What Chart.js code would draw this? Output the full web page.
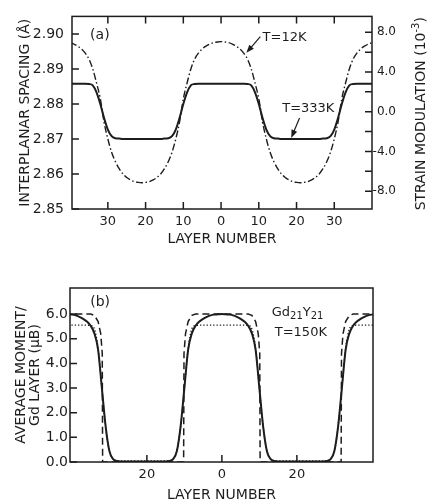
<!DOCTYPE html>
<html>
<head>
<meta charset="utf-8">
<script src="https://cdn.jsdelivr.net/npm/chart.js@4.4.1/dist/chart.umd.min.js"></script>
<style>
  body { margin: 0; background: #fff; }
  #wrap { position: relative; width: 429px; height: 504px; }
  canvas { position: absolute; left: 0; }
  #chartA { top: 0; }
  #chartB { top: 250px; }
</style>
</head>
<body>
<div id="wrap">
  <canvas id="chartA" width="429" height="250"></canvas>
  <canvas id="chartB" width="429" height="254"></canvas>
</div>
<script>
'use strict';
// ---- panel (a): interplanar spacing vs layer number ----
var layersA = [-42, -41, -40, -39, -38, -37, -36, -35, -34, -33, -32, -31, -30, -29, -28, -27, -26, -25, -24, -23, -22, -21,
  -20, -19, -18, -17, -16, -15, -14, -13, -12, -11, -10, -9, -8, -7, -6, -5, -4, -3, -2, -1, 0,
  1, 2, 3, 4, 5, 6, 7, 8, 9, 10, 11, 12, 13, 14, 15, 16, 17, 18, 19, 20, 21,
  22, 23, 24, 25, 26, 27, 28, 29, 30, 31, 32, 33, 34, 35, 36, 37, 38, 39, 40, 41, 42];
var spacing12K = [2.8978, 2.8977, 2.8975, 2.8971, 2.8965, 2.8957, 2.8945, 2.8928, 2.8900, 2.8860, 2.8815, 2.8748, 2.8700, 2.8662, 2.8635, 2.8615, 2.8600, 2.8590, 2.8583, 2.8578, 2.8576, 2.8575,
  2.8576, 2.8578, 2.8583, 2.8590, 2.8600, 2.8615, 2.8635, 2.8662, 2.8700, 2.8748, 2.8815, 2.8860, 2.8900, 2.8928, 2.8945, 2.8957, 2.8965, 2.8971, 2.8975, 2.8977, 2.8978,
  2.8977, 2.8975, 2.8971, 2.8965, 2.8957, 2.8945, 2.8928, 2.8900, 2.8860, 2.8815, 2.8748, 2.8700, 2.8662, 2.8635, 2.8615, 2.8600, 2.8590, 2.8583, 2.8578, 2.8576, 2.8575,
  2.8576, 2.8578, 2.8583, 2.8590, 2.8600, 2.8615, 2.8635, 2.8662, 2.8700, 2.8748, 2.8815, 2.8860, 2.8900, 2.8928, 2.8945, 2.8957, 2.8965, 2.8971, 2.8975, 2.8977, 2.8978];
var spacing333K = [2.8858, 2.8858, 2.8858, 2.8858, 2.8858, 2.8858, 2.8858, 2.8857, 2.8853, 2.8833, 2.8800, 2.8760, 2.8727, 2.8708, 2.8702, 2.8701, 2.8700, 2.8700, 2.8700, 2.8700, 2.8700, 2.8700,
  2.8700, 2.8700, 2.8700, 2.8700, 2.8700, 2.8701, 2.8702, 2.8708, 2.8727, 2.8760, 2.8800, 2.8833, 2.8853, 2.8857, 2.8858, 2.8858, 2.8858, 2.8858, 2.8858, 2.8858, 2.8858,
  2.8858, 2.8858, 2.8858, 2.8858, 2.8858, 2.8858, 2.8857, 2.8853, 2.8833, 2.8800, 2.8760, 2.8727, 2.8708, 2.8702, 2.8701, 2.8700, 2.8700, 2.8700, 2.8700, 2.8700, 2.8700,
  2.8700, 2.8700, 2.8700, 2.8700, 2.8700, 2.8701, 2.8702, 2.8708, 2.8727, 2.8760, 2.8800, 2.8833, 2.8853, 2.8857, 2.8858, 2.8858, 2.8858, 2.8858, 2.8858, 2.8858, 2.8858];
var spacingTicks = [2.85, 2.86, 2.87, 2.88, 2.89, 2.90];
var strainTicks = [-8, -6, -4, -2, 0, 2, 4, 6, 8];
var layerTicksA = [-30, -20, -10, 0, 10, 20, 30];

// ---- panel (b): average moment per Gd layer ----
var layersB = layersA;
var momentSolid = [6.00, 5.99, 5.98, 5.95, 5.89, 5.81, 5.70, 5.53, 5.22, 4.55, 3.00, 1.45, 0.45, 0.12, 0.04, 0.02, 0.02, 0.02, 0.02, 0.02, 0.02, 0.02,
  0.02, 0.02, 0.02, 0.02, 0.02, 0.02, 0.04, 0.12, 0.45, 1.45, 3.00, 4.55, 5.22, 5.53, 5.70, 5.81, 5.89, 5.95, 5.98, 5.99, 6.00,
  5.99, 5.98, 5.95, 5.89, 5.81, 5.70, 5.53, 5.22, 4.55, 3.00, 1.45, 0.45, 0.12, 0.04, 0.02, 0.02, 0.02, 0.02, 0.02, 0.02, 0.02,
  0.02, 0.02, 0.02, 0.02, 0.02, 0.02, 0.04, 0.12, 0.45, 1.45, 3.00, 4.55, 5.22, 5.53, 5.70, 5.81, 5.89, 5.95, 5.98, 5.99, 6.00];
var momentDotted = [5.55, 5.55, 5.55, 5.55, 5.55, 5.55, 5.55, 5.54, 5.40, 4.60, 3.00, 1.45, 0.45, 0.12, 0.05, 0.04, 0.04, 0.04, 0.04, 0.04, 0.04, 0.04,
  0.04, 0.04, 0.04, 0.04, 0.04, 0.04, 0.05, 0.12, 0.45, 1.45, 3.00, 4.60, 5.40, 5.54, 5.55, 5.55, 5.55, 5.55, 5.55, 5.55, 5.55,
  5.55, 5.55, 5.55, 5.55, 5.55, 5.55, 5.54, 5.40, 4.60, 3.00, 1.45, 0.45, 0.12, 0.05, 0.04, 0.04, 0.04, 0.04, 0.04, 0.04, 0.04,
  0.04, 0.04, 0.04, 0.04, 0.04, 0.04, 0.05, 0.12, 0.45, 1.45, 3.00, 4.60, 5.40, 5.54, 5.55, 5.55, 5.55, 5.55, 5.55, 5.55, 5.55];
var dashLayers = [-42, -35, -34, -33, -32.3, -31.9, -31.8, -10.2, -10.1, -9.7, -9, -8, -7,
  7, 8, 9, 9.7, 10.1, 10.2, 31.8, 31.9, 32.3, 33, 34, 35, 42];
var dashMoment = [6.0, 6.0, 5.95, 5.7, 5.2, 4.4, 0, 0, 4.4, 5.2, 5.7, 5.95, 6.0,
  6.0, 5.95, 5.7, 5.2, 4.4, 0, 0, 4.4, 5.2, 5.7, 5.95, 6.0, 6.0];
var momentTicks = [0, 1, 2, 3, 4, 5, 6];
var layerTicksB = [-20, 0, 20];

var ink = '#1d1d1d';
Chart.defaults.font.family = 'DejaVu Sans';
Chart.defaults.color = ink;

function toPoints(xs, ys) {
  return xs.map(function (x, i) { return { x: x, y: ys[i] }; });
}
function fixTicks(list) {
  return function (scale) { scale.ticks = list.map(function (v) { return { value: v }; }); };
}

function arrow(ctx, x0, y0, x1, y1) {
  var ang = Math.atan2(y1 - y0, x1 - x0);
  ctx.beginPath();
  ctx.moveTo(x0, y0);
  ctx.lineTo(x1 - 5 * Math.cos(ang), y1 - 5 * Math.sin(ang));
  ctx.stroke();
  ctx.beginPath();
  ctx.moveTo(x1, y1);
  ctx.lineTo(x1 - 8 * Math.cos(ang) + 3 * Math.sin(ang), y1 - 8 * Math.sin(ang) - 3 * Math.cos(ang));
  ctx.lineTo(x1 - 8 * Math.cos(ang) - 3 * Math.sin(ang), y1 - 8 * Math.sin(ang) + 3 * Math.cos(ang));
  ctx.closePath();
  ctx.fill();
}

// frame + inward tick marks
var boxPlugin = {
  id: 'box',
  afterDraw: function (chart, args, opts) {
    var ctx = chart.ctx, a = chart.chartArea, len = 7;
    ctx.save();
    ctx.strokeStyle = ink;
    ctx.lineWidth = 1.5;
    ctx.strokeRect(a.left, a.top, a.right - a.left, a.bottom - a.top);
    ctx.beginPath();
    var x = chart.scales.x;
    x.ticks.forEach(function (t) {
      var px = x.getPixelForValue(t.value);
      ctx.moveTo(px, a.bottom); ctx.lineTo(px, a.bottom - len);
      if (opts.topTicks) { ctx.moveTo(px, a.top); ctx.lineTo(px, a.top + len); }
    });
    var y = chart.scales.y;
    y.ticks.forEach(function (t) {
      var py = y.getPixelForValue(t.value);
      ctx.moveTo(a.left, py); ctx.lineTo(a.left + len, py);
    });
    var y2 = chart.scales.y2;
    if (y2) {
      y2.ticks.forEach(function (t) {
        var py = y2.getPixelForValue(t.value);
        ctx.moveTo(a.right, py); ctx.lineTo(a.right - len, py);
      });
    }
    ctx.stroke();
    ctx.restore();
  }
};

var notesA = {
  id: 'notesA',
  afterDraw: function (chart) {
    var ctx = chart.ctx, x = chart.scales.x, y = chart.scales.y;
    ctx.save();
    ctx.fillStyle = ink; ctx.strokeStyle = ink; ctx.lineWidth = 1.2;
    ctx.textBaseline = 'middle'; ctx.textAlign = 'left';
    ctx.font = '14px "DejaVu Sans"';
    ctx.fillText('(a)', x.getPixelForValue(-34.7), y.getPixelForValue(2.8997));
    ctx.font = '13px "DejaVu Sans"';
    ctx.fillText('T=12K', x.getPixelForValue(11), y.getPixelForValue(2.8989));
    ctx.fillText('T=333K', x.getPixelForValue(16.2), y.getPixelForValue(2.8787));
    arrow(ctx, x.getPixelForValue(10.4), y.getPixelForValue(2.8992), x.getPixelForValue(6.7), y.getPixelForValue(2.8946));
    arrow(ctx, x.getPixelForValue(20.8), y.getPixelForValue(2.8760), x.getPixelForValue(18.6), y.getPixelForValue(2.8703));
    // right axis title, read bottom to top
    var main = 'STRAIN MODULATION (10', sup = '-3', close = ')';
    ctx.font = '14px "DejaVu Sans"';
    var w1 = ctx.measureText(main).width, w3 = ctx.measureText(close).width;
    ctx.font = '10px "DejaVu Sans"';
    var w2 = ctx.measureText(sup).width;
    var total = w1 + w2 + w3;
    ctx.translate(421, (chart.chartArea.top + chart.chartArea.bottom) / 2 + 1);
    ctx.rotate(-Math.PI / 2);
    ctx.font = '14px "DejaVu Sans"';
    ctx.fillText(main, -total / 2, 0);
    ctx.font = '10px "DejaVu Sans"';
    ctx.fillText(sup, -total / 2 + w1, -5);
    ctx.font = '14px "DejaVu Sans"';
    ctx.fillText(close, -total / 2 + w1 + w2, 0);
    ctx.restore();
  }
};

var notesB = {
  id: 'notesB',
  afterDraw: function (chart) {
    var ctx = chart.ctx, x = chart.scales.x, y = chart.scales.y;
    ctx.save();
    ctx.fillStyle = ink;
    ctx.textBaseline = 'middle'; ctx.textAlign = 'left';
    ctx.font = '14px "DejaVu Sans"';
    ctx.fillText('(b)', x.getPixelForValue(-35.1), y.getPixelForValue(6.47));
    var px = x.getPixelForValue(13.3), py = y.getPixelForValue(6.06);
    var parts = [['Gd', 13, 0], ['21', 10, 4], ['Y', 13, 0], ['21', 10, 4]];
    parts.forEach(function (p) {
      ctx.font = p[1] + 'px "DejaVu Sans"';
      ctx.fillText(p[0], px, py + p[2]);
      px += ctx.measureText(p[0]).width;
    });
    ctx.font = '13px "DejaVu Sans"';
    ctx.fillText('T=150K', x.getPixelForValue(14.1), y.getPixelForValue(5.25));
    ctx.restore();
  }
};

new Chart(document.getElementById('chartA'), {
  type: 'line',
  data: {
    datasets: [
      { label: 'T=12K', data: toPoints(layersA, spacing12K), borderColor: ink, borderWidth: 1.4,
        borderDash: [7, 2.5, 1.5, 2.5], pointRadius: 0, cubicInterpolationMode: 'monotone', fill: false },
      { label: 'T=333K', data: toPoints(layersA, spacing333K), borderColor: ink, borderWidth: 2,
        pointRadius: 0, cubicInterpolationMode: 'monotone', fill: false }
    ]
  },
  options: {
    responsive: false,
    animation: false,
    layout: { padding: { top: 6, left: 0, right: 33, bottom: 0 } },
    plugins: { legend: { display: false }, tooltip: { enabled: false }, box: { topTicks: true } },
    scales: {
      x: {
        type: 'linear', min: -39.5, max: 40,
        grid: { display: false, drawTicks: false }, border: { display: false },
        afterBuildTicks: fixTicks(layerTicksA),
        ticks: { padding: 5, autoSkip: false, maxRotation: 0, font: { size: 13 },
          callback: function (v) { return String(Math.abs(v)); } },
        title: { display: true, text: 'LAYER NUMBER', font: { size: 14 }, padding: { top: 0, bottom: 2.6 } },
        afterFit: function (s) { s.height = 41; }
      },
      y: {
        position: 'left', min: 2.85, max: 2.905,
        grid: { display: false, drawTicks: false }, border: { display: false },
        afterBuildTicks: fixTicks(spacingTicks),
        ticks: { padding: 8, font: { size: 14 }, callback: function (v) { return v.toFixed(2); } },
        title: { display: true, text: 'INTERPLANAR SPACING (Å)', font: { size: 14 }, padding: { top: 16.6, bottom: 0 } },
        afterFit: function (s) { s.width = 72; }
      },
      y2: {
        position: 'right', min: -9.8, max: 9.6,
        grid: { display: false, drawTicks: false }, border: { display: false },
        afterBuildTicks: fixTicks(strainTicks),
        ticks: { padding: 2, crossAlign: 'far', font: { size: 12 },
          callback: function (v) { return v % 4 === 0 ? v.toFixed(1) : ''; } },
        afterFit: function (s) { s.width = 24; }
      }
    }
  },
  plugins: [boxPlugin, notesA]
});

new Chart(document.getElementById('chartB'), {
  type: 'line',
  data: {
    datasets: [
      { label: 'solid', data: toPoints(layersB, momentSolid), borderColor: ink, borderWidth: 2,
        pointRadius: 0, cubicInterpolationMode: 'monotone', fill: false },
      { label: 'dotted', data: toPoints(layersB, momentDotted), borderColor: ink, borderWidth: 1.3,
        borderDash: [1.3, 2], pointRadius: 0, cubicInterpolationMode: 'monotone', fill: false },
      { label: 'dashed', data: toPoints(dashLayers, dashMoment), borderColor: ink, borderWidth: 1.5,
        borderDash: [7, 4], pointRadius: 0, tension: 0, fill: false }
    ]
  },
  options: {
    responsive: false,
    animation: false,
    layout: { padding: { top: 38, left: 0, right: 56, bottom: 0 } },
    plugins: { legend: { display: false }, tooltip: { enabled: false }, box: { topTicks: false } },
    scales: {
      x: {
        type: 'linear', min: -40.5, max: 40.3,
        grid: { display: false, drawTicks: false }, border: { display: false },
        afterBuildTicks: fixTicks(layerTicksB),
        ticks: { padding: 5, autoSkip: false, maxRotation: 0, font: { size: 13 },
          callback: function (v) { return String(Math.abs(v)); } },
        title: { display: true, text: 'LAYER NUMBER', font: { size: 14 }, padding: { top: 0, bottom: 0.6 } },
        afterFit: function (s) { s.height = 42; }
      },
      y: {
        position: 'left', min: 0, max: 7.06,
        grid: { display: false, drawTicks: false }, border: { display: false },
        afterBuildTicks: fixTicks(momentTicks),
        ticks: { padding: 2, font: { size: 14 }, callback: function (v) { return v.toFixed(1); } },
        title: { display: true, text: ['AVERAGE MOMENT/', 'Gd LAYER (\u03bcB)'], font: { size: 14, lineHeight: 1.0 },
          padding: { top: 14, bottom: 0 } },
        afterFit: function (s) { s.width = 70; }
      }
    }
  },
  plugins: [boxPlugin, notesB]
});
</script>
</body>
</html>
